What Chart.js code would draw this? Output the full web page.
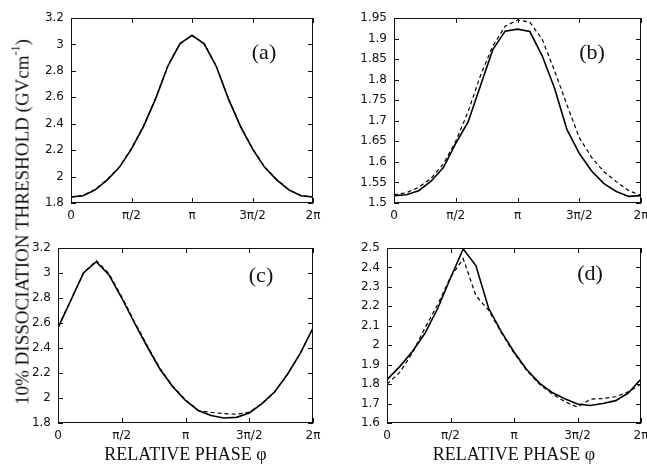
<!DOCTYPE html>
<html><head><meta charset="utf-8">
<script src="https://cdn.jsdelivr.net/npm/chart.js@4.4.1/dist/chart.umd.min.js"></script>
<style>
html,body{margin:0;padding:0;background:#fff;width:647px;height:464px;overflow:hidden;position:relative;}
canvas{position:absolute;}
.lbl{position:absolute;font-family:"Liberation Serif","Times New Roman",serif;color:#111;white-space:nowrap;line-height:1;}
#ytitle{font-size:19px;left:22px;top:222px;transform:translate(-50%,-50%) rotate(-90deg);}
#ytitle sup{font-size:12px;vertical-align:9px;line-height:0;}
.pl{font-size:22px;transform:translate(-50%,-50%);}
</style></head>
<body>
<canvas id="ca"></canvas><canvas id="cb"></canvas><canvas id="cc"></canvas><canvas id="cd"></canvas>
<div id="ytitle" class="lbl">10% DISSOCIATION THRESHOLD (GVcm<sup>-1</sup>)</div>
<div class="lbl pl" style="left:264px;top:52px">(a)</div>
<div class="lbl pl" style="left:592px;top:52px">(b)</div>
<div class="lbl pl" style="left:261px;top:275px">(c)</div>
<div class="lbl pl" style="left:590px;top:273px">(d)</div>
<script>
// relative phase in units of pi
const phase = [0,0.1,0.2,0.3,0.4,0.5,0.6,0.7,0.8,0.9,1.0,1.1,1.2,1.3,1.4,1.5,1.6,1.7,1.8,1.9,2.0];
const xTickValues = [0,0.5,1,1.5,2];
const xTickLabels = ["0","\u03c0/2","\u03c0","3\u03c0/2","2\u03c0"];
const xTitle = "RELATIVE PHASE \u03c6";

const aSolid  = [1.845,1.855,1.899,1.975,2.07,2.21,2.38,2.59,2.835,3.005,3.07,3.005,2.835,2.59,2.38,2.21,2.07,1.975,1.899,1.855,1.845];
const aDashed = [1.846,1.857,1.902,1.978,2.074,2.214,2.384,2.594,2.838,3.008,3.065,3.008,2.838,2.594,2.384,2.214,2.074,1.978,1.902,1.857,1.846];
const bSolid  = [1.518,1.52,1.53,1.553,1.586,1.645,1.697,1.785,1.873,1.918,1.923,1.917,1.858,1.779,1.679,1.621,1.578,1.547,1.528,1.516,1.518];
const bDashed = [1.52,1.525,1.538,1.56,1.595,1.65,1.722,1.81,1.882,1.93,1.945,1.94,1.898,1.822,1.739,1.659,1.611,1.576,1.552,1.53,1.519];
const cSolid  = [2.56,2.78,3.0,3.09,2.985,2.8,2.6,2.41,2.23,2.09,1.98,1.9,1.86,1.84,1.845,1.88,1.955,2.05,2.19,2.357,2.56];
const cDashed = [2.57,2.78,3.0,3.1,2.995,2.81,2.61,2.42,2.235,2.095,1.985,1.9,1.885,1.875,1.87,1.885,1.955,2.05,2.19,2.357,2.56];
const dSolid  = [1.823,1.89,1.968,2.063,2.19,2.346,2.495,2.41,2.19,2.07,1.965,1.875,1.805,1.757,1.725,1.698,1.69,1.70,1.715,1.754,1.826];
const dDashed = [1.80,1.86,1.96,2.09,2.21,2.35,2.445,2.255,2.18,2.065,1.96,1.87,1.80,1.75,1.71,1.682,1.722,1.726,1.735,1.76,1.80];

const yRangeA = [1.8,3.2,0.2];
const yRangeB = [1.5,1.95,0.05];
const yRangeC = [1.8,3.2,0.2];
const yRangeD = [1.6,2.5,0.1];

const INK = '#111';
const frameTicks = {
  id:'frameTicks',
  afterDatasetsDraw(chart){
    const {ctx, chartArea:{left,right,top,bottom}} = chart;
    const xs = chart.scales.x, ys = chart.scales.y;
    ctx.save();
    ctx.strokeStyle = INK; ctx.lineWidth = 1;
    ctx.strokeRect(Math.round(left)+0.5, Math.round(top)+0.5, Math.round(right-left)-1, Math.round(bottom-top)-1);
    ctx.beginPath();
    const tl = 5;
    xs.ticks.forEach(t=>{
      const p = Math.round(xs.getPixelForValue(t.value))+0.5;
      ctx.moveTo(p,bottom); ctx.lineTo(p,bottom-tl);
      ctx.moveTo(p,top); ctx.lineTo(p,top+tl);
    });
    ys.ticks.forEach(t=>{
      const p = Math.round(ys.getPixelForValue(t.value))+0.5;
      ctx.moveTo(left,p); ctx.lineTo(left+tl,p);
      ctx.moveTo(right,p); ctx.lineTo(right-tl,p);
    });
    ctx.stroke();
    ctx.restore();
  }
};

function makePanel(id, box, solid, dashed, yr, withTitle){
  const [L,T,R,B] = box;
  const yW = 40, padT = 10, padR = 10;
  const xH = withTitle ? 43 : 24;
  const cv = document.getElementById(id);
  const W = R-L+yW+padR, H = padT+(B-T)+xH;
  cv.width = W; cv.height = H;
  cv.style.left = (L-yW)+'px'; cv.style.top = (T-padT)+'px';
  cv.style.width = W+'px'; cv.style.height = H+'px';
  new Chart(cv, {
    type:'line',
    data:{datasets:[
      {data: phase.map((p,i)=>({x:p,y:solid[i]})), borderColor:'#000', borderWidth:1.6, pointRadius:0, tension:0, fill:false},
      {data: phase.map((p,i)=>({x:p,y:dashed[i]})), borderColor:'#000', borderWidth:1.2, borderDash:[4,3], pointRadius:0, tension:0, fill:false}
    ]},
    options:{
      responsive:false, animation:false, devicePixelRatio:1,
      layout:{padding:{left:0,right:padR,top:padT,bottom:0}},
      plugins:{legend:{display:false}, tooltip:{enabled:false}},
      scales:{
        x:{type:'linear', min:0, max:2,
          grid:{display:false, drawTicks:false}, border:{display:false},
          afterBuildTicks:(s)=>{ s.ticks = xTickValues.map(v=>({value:v})); },
          afterFit:(s)=>{ s.height = xH; s.paddingLeft = 0; s.paddingRight = 0; },
          ticks:{autoSkip:false, maxRotation:0, padding:6, color:INK,
            font:{family:'"DejaVu Sans"', size:12},
            callback:(v,i)=>xTickLabels[i]},
          title:{display:withTitle, text:xTitle, color:INK, padding:{top:0,bottom:0},
            font:{family:'"Liberation Serif"', size:18}}
        },
        y:{type:'linear', min:yr[0], max:yr[1],
          grid:{display:false, drawTicks:false}, border:{display:false},
          afterFit:(s)=>{ s.width = yW; s.paddingTop = 0; s.paddingBottom = 0; },
          ticks:{stepSize:yr[2], padding:7, color:INK,
            font:{family:'"DejaVu Sans"', size:12},
            callback:(v)=>String(+(+v).toFixed(2))}
        }
      }
    },
    plugins:[frameTicks]
  });
}
makePanel('ca',[71,18,313,203],aSolid,aDashed,yRangeA,false);
makePanel('cb',[394,18,641,203],bSolid,bDashed,yRangeB,false);
makePanel('cc',[58,248,313,423],cSolid,cDashed,yRangeC,true);
makePanel('cd',[387,248,641,423],dSolid,dDashed,yRangeD,true);
</script>
</body></html>
